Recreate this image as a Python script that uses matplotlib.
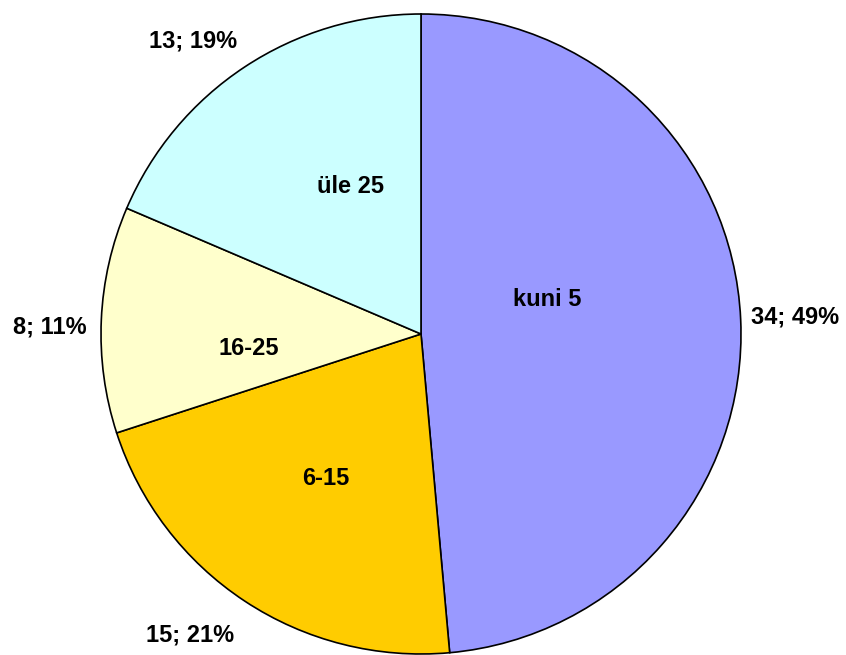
import matplotlib.pyplot as plt
import numpy as np

plt.rcParams['font.family'] = ['Liberation Sans', 'DejaVu Sans']

categories = ['kuni 5', '6-15', '16-25', 'üle 25']
counts = [34, 15, 8, 13]
colors = ['#9999FF', '#FFCC00', '#FFFFCC', '#CCFFFF']

fig = plt.figure(figsize=(8.46, 6.55), dpi=100)
ax = fig.add_axes([0, 0, 1, 1])
ax.set_aspect('equal')
ax.axis('off')

cx, cy, r = 421, 655 - 334, 320
wedges, _ = ax.pie(counts, colors=colors, startangle=90, counterclock=False,
                   center=(cx, cy), radius=r,
                   wedgeprops=dict(edgecolor='black', linewidth=1.2))
ax.set_xlim(0, 846)
ax.set_ylim(0, 655)

total = sum(counts)
# small nudges for the inner category names (angle shift deg, distance)
inner = {'kuni 5': (12.7, 0.41), '6-15': (0, 0.54), '16-25': (7.3, 0.54), 'üle 25': (-7.8, 0.51)}
outer = [(0, 1.17), (-4, 1.185), (1.5, 1.16), (4.5, 1.16)]

for w, cat, n, (da, d) in zip(wedges, categories, counts, outer):
    mid = np.deg2rad((w.theta1 + w.theta2) / 2 + da)
    pct = round(100 * n / total)
    ax.text(cx + d * r * np.cos(mid), cy + d * r * np.sin(mid), f'{n}; {pct}%',
            ha='center', va='center', fontsize=17, fontweight='bold')
    ia, idist = inner[cat]
    mid = np.deg2rad((w.theta1 + w.theta2) / 2 + ia)
    ax.text(cx + idist * r * np.cos(mid), cy + idist * r * np.sin(mid), cat,
            ha='center', va='center', fontsize=17, fontweight='bold')

fig.savefig('out.png', dpi=100)
